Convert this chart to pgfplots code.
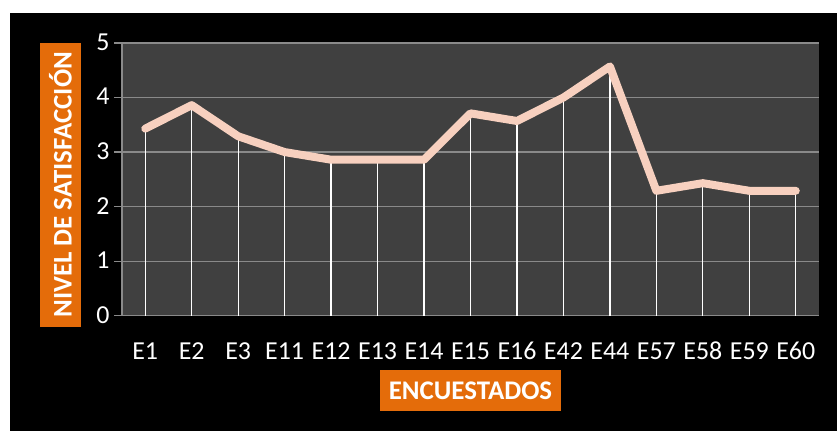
\documentclass[border=0pt]{standalone}
\usepackage{pgfplots}
\pgfplotsset{compat=1.18}
\usepackage{fontspec}
\setmainfont{Carlito}
\definecolor{plotbg}{HTML}{404040}
\definecolor{gridc}{HTML}{8A8A8A}
\definecolor{linec}{HTML}{F7D0BF}
\definecolor{boxc}{HTML}{E46C0A}
\begin{document}
\begin{tikzpicture}[x=1bp,y=1bp]
\fill[white] (0,0) rectangle (837,431);
\fill[black] (10,0) rectangle (837,418);
\path[use as bounding box] (0,0) rectangle (837,431);
\begin{axis}[
  at={(122bp,115.3bp)}, anchor=south west,
  scale only axis, width=697bp, height=272.7bp,
  xmin=-0.5, xmax=14.5, ymin=0, ymax=5,
  xtick={0,...,14},
  xticklabels={E1,E2,E3,E11,E12,E13,E14,E15,E16,E42,E44,E57,E58,E59,E60},
  ytick={0,1,2,3,4,5},
  axis background/.style={fill=plotbg},
  axis x line*=bottom, axis y line*=left,
  axis line style={gridc, line width=1.2bp, -},
  ymajorgrids, major grid style={gridc, line width=1.2bp},
  x tick style={draw=none},
  y tick style={gridc, line width=1.2bp},
  ytick align=outside, major tick length=8bp,
  tick label style={white, font=\fontsize{26}{30}\selectfont},
  xticklabel style={anchor=center, yshift=-35.3bp},
  yticklabel style={anchor=east, xshift=-1bp, yshift=1bp},
  /pgf/number format/assume math mode=true,
  clip=false,
]
\addplot[ycomb, white, line width=1.3bp, no markers] coordinates {
(0,3.43) (1,3.86) (2,3.29) (3,3.00) (4,2.86) (5,2.86) (6,2.86) (7,3.71) (8,3.57) (9,4.00) (10,4.57) (11,2.29) (12,2.43) (13,2.29) (14,2.29)};
\addplot[linec, line width=8bp, line cap=round, line join=round, no markers] coordinates {
(0,3.43) (1,3.86) (2,3.29) (3,3.00) (4,2.86) (5,2.86) (6,2.86) (7,3.71) (8,3.57) (9,4.00) (10,4.57) (11,2.29) (12,2.43) (13,2.29) (14,2.29)};
\end{axis}
\node[fill=boxc, text=white, rotate=90, minimum width=283.7bp, minimum height=41bp, inner sep=0pt, font=\bfseries\fontsize{27}{30}\selectfont] at (60.5,246.15) {NIVEL DE SATISFACCIÓN};
\node[fill=boxc, text=white, minimum width=181bp, minimum height=40.7bp, inner sep=0pt, font=\bfseries\fontsize{27}{30}\selectfont] at (470.5,40.65) {ENCUESTADOS};
\end{tikzpicture}
\end{document}
